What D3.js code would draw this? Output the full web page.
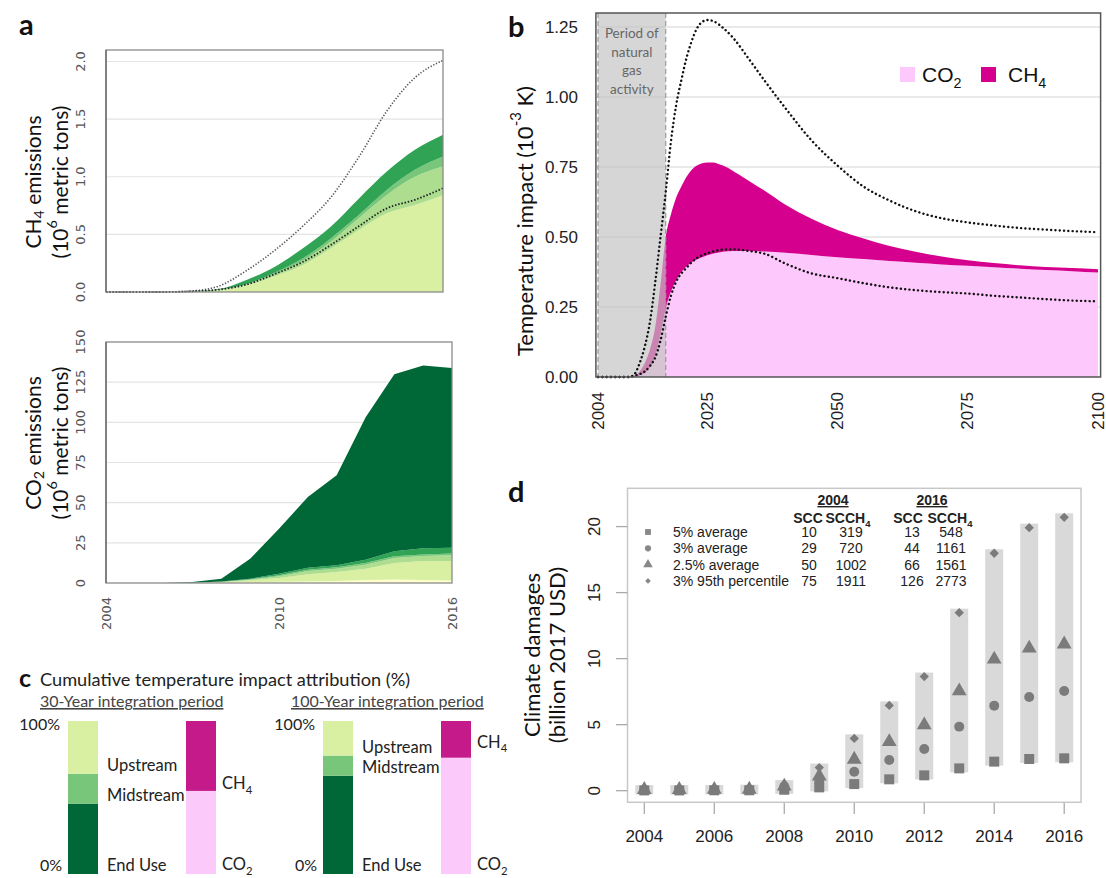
<!DOCTYPE html>
<html><head><meta charset="utf-8">
<script src="https://cdn.jsdelivr.net/npm/d3@7"></script>
<style>body{margin:0;background:#fff} svg{display:block}</style>
</head><body>
<svg id="fig" width="1106" height="878"></svg>
<script>
// ---------------- DATA ----------------
// Panel a (top): CH4 emissions, 10^6 t, stacked segments
const yearsA = [2004,2005,2006,2007,2008,2009,2010,2011,2012,2013,2014,2015,2016];
const ch4Seg1 = [0,0,0,0.003,0.015,0.058,0.137,0.232,0.378,0.537,0.683,0.755,0.84];
const ch4Seg2 = [0,0,0,0.001,0.003,0.008,0.018,0.038,0.058,0.103,0.159,0.245,0.249];
const ch4Seg3 = [0,0,0,0,0.001,0.004,0.011,0.02,0.029,0.028,0.044,0.06,0.087];
const ch4Seg4 = [0,0,0,0.001,0.006,0.035,0.052,0.088,0.101,0.142,0.159,0.174,0.189];
const ch4High = [0,0,0,0.008,0.05,0.185,0.36,0.57,0.82,1.17,1.57,1.86,2.01];
const ch4Low  = [0,0,0,0.005,0.02,0.065,0.155,0.26,0.407,0.57,0.726,0.80,0.90];
const ch4Ticks = [0,0.5,1,1.5,2];
const ch4TickLabels = ["0.0","0.5","1.0","1.5","2.0"];
// Panel a (bottom): CO2 emissions, 10^6 t, stacked segments
const co2Seg1 = [0,0,0,0,0.2,0.5,0.8,1.0,1.3,1.8,2.2,1.8,1.5];
const co2Seg2 = [0,0,0,0.1,0.4,1.2,2.3,4.4,5.5,7.1,10.3,11.9,12.2];
const co2Seg3 = [0,0,0,0,0.2,0.4,1.1,2.1,2.1,2.5,3.1,3.1,3.5];
const co2Seg4 = [0,0,0,0.05,0,0.2,0.6,0.8,0.9,1.1,1.0,1.0,1.1];
const co2Seg5 = [0,0,0,0.05,0.2,0.4,1.0,1.2,1.2,2.0,3.1,3.8,3.7];
const co2Seg6 = [0,0,0,0.4,1.7,12.4,28.0,44.0,56.0,88.5,110.3,113.7,111.8];
const co2Ticks = [0,25,50,75,100,125,150];
const yearTicksA = [2004,2010,2016];

// Panel b: temperature impact, 10^-3 K
const yearsB = [2004,2008,2010,2011,2012,2013,2014,2015,2016,2017,2018,2019,2020,2021,2022,2023,2024,2025,2026,2027,2028,2030,2033,2036,2040,2045,2050,2055,2060,2065,2070,2075,2080,2085,2090,2095,2100];
const co2Impact = [0,0,0,0,0.005,0.015,0.035,0.075,0.15,0.245,0.305,0.345,0.375,0.395,0.41,0.42,0.428,0.435,0.44,0.444,0.447,0.45,0.45,0.448,0.444,0.436,0.428,0.421,0.414,0.408,0.402,0.397,0.392,0.387,0.382,0.378,0.373];
const ch4Impact = [0,0,0,0.005,0.015,0.035,0.065,0.105,0.18,0.255,0.275,0.295,0.305,0.32,0.33,0.335,0.335,0.331,0.326,0.318,0.308,0.285,0.25,0.217,0.171,0.129,0.097,0.074,0.054,0.039,0.028,0.02,0.015,0.012,0.011,0.011,0.012];
const impactHigh = [0,0,0,0.01,0.05,0.11,0.2,0.34,0.5,0.66,0.84,0.97,1.06,1.14,1.2,1.245,1.268,1.275,1.272,1.262,1.247,1.21,1.135,1.058,0.96,0.845,0.755,0.68,0.63,0.592,0.567,0.552,0.541,0.532,0.526,0.521,0.517];
const impactLow = [0,0,0,0.005,0.01,0.02,0.04,0.07,0.13,0.215,0.29,0.34,0.37,0.39,0.41,0.425,0.435,0.442,0.448,0.452,0.455,0.456,0.45,0.44,0.405,0.37,0.353,0.335,0.32,0.31,0.303,0.298,0.29,0.284,0.278,0.273,0.27];
const activityPeriod = [2004,2017];
const impactTicks = [0,0.25,0.5,0.75,1.0,1.25];
const impactTickLabels = ["0.00","0.25","0.50","0.75","1.00","1.25"];
const yearTicksB = [2004,2025,2050,2075,2100];

// Panel c: cumulative temperature impact attribution (%)
const periods = ["30-Year integration period","100-Year integration period"];
const stageNames = ["End Use","Midstream","Upstream"];
const stageShare30 = [46,19.5,34.5];
const stageShare100 = [64.2,13.2,22.6];
const gasNames = ["CO2","CH4"];
const gasShare30 = [54.3,45.7];
const gasShare100 = [76,24];

// Panel d: climate damages, billion 2017 USD
const yearsD = [2004,2005,2006,2007,2008,2009,2010,2011,2012,2013,2014,2015,2016];
const dmg5avg  = [0.02,0.02,0.03,0.03,0.07,0.25,0.5,0.86,1.16,1.69,2.2,2.4,2.45];
const dmg3avg  = [0.05,0.05,0.06,0.07,0.2,0.7,1.44,2.32,3.16,4.85,6.44,7.1,7.55];
const dmg25avg = [0.08,0.08,0.09,0.1,0.33,1.1,2.37,3.71,4.97,7.55,9.95,10.78,11.1];
const dmg3p95  = [0.12,0.12,0.13,0.15,0.5,1.75,3.96,6.46,8.64,13.48,17.98,19.92,20.7];
const dmgTicks = [0,5,10,15,20];
const yearTicksD = [2004,2006,2008,2010,2012,2014,2016];
const sccLabels = ["5% average","3% average","2.5% average","3% 95th percentile"];
const scc2004 = [10,29,50,75];
const scch4_2004 = [319,720,1002,1911];
const scc2016 = [13,44,66,126];
const scch4_2016 = [548,1161,1561,2773];

// ---------------- STYLE ----------------
const svg = d3.select("#fig");
const SEG = "Lato,'Open Sans',sans-serif";
const ARI = "'Liberation Sans',Arial,sans-serif";
const DJV = "'DejaVu Sans',sans-serif";
const YLGN = ["#ffffcc","#d9f0a3","#addd8e","#78c679","#31a354","#006837"];
const PINK = "#fdc8fb", MAG = "#d6008f";
const PINKc = "#fcc9fb", MAGc = "#c51b8a";

function rich(sel, segs, fs){
  let shift = 0;
  segs.forEach(s=>{
    const t = sel.append("tspan").text(s.t);
    let target = 0;
    if (s.s === "sub") { t.attr("font-size", fs*0.68); target = fs*0.28; }
    else if (s.s === "sup") { t.attr("font-size", fs*0.68); target = -fs*0.4; }
    if (target !== shift) { t.attr("dy", target - shift); shift = target; }
  });
  return sel;
}
function vText(g, x, y, anchor){
  return g.append("text").attr("transform",`translate(${x},${y}) rotate(-90)`)
    .attr("text-anchor",anchor||"middle").attr("dominant-baseline","central");
}

// ---------------- PANEL A ----------------
(function(){
  const g = svg.append("g");
  g.append("text").attr("x",19).attr("y",35).attr("font-family",SEG).attr("font-weight",700)
    .attr("font-size",29).attr("fill","#111").text("a");

  // top: CH4
  const x1 = d3.scaleLinear().domain([2004,2016]).range([106,443]);
  const y1 = d3.scaleLinear().domain([0,2.1]).range([292,50]);
  g.selectAll(".g1").data(ch4Ticks.filter(d=>d>0)).join("line")
    .attr("x1",106).attr("x2",443).attr("y1",d=>y1(d)).attr("y2",d=>y1(d))
    .attr("stroke","#e4e4e4").attr("stroke-width",1.2);
  const rows1 = yearsA.map((yr,i)=>({year:yr,s1:ch4Seg1[i],s2:ch4Seg2[i],s3:ch4Seg3[i],s4:ch4Seg4[i]}));
  const st1 = d3.stack().keys(["s1","s2","s3","s4"])(rows1);
  const ar1 = d3.area().x(d=>x1(d.data.year)).y0(d=>y1(d[0])).y1(d=>y1(d[1])).curve(d3.curveMonotoneX);
  const cols1 = [YLGN[1],YLGN[2],YLGN[3],YLGN[4]];
  g.selectAll(".a1").data(st1).join("path").attr("d",ar1).attr("fill",(d,i)=>cols1[i]);
  const ln1 = d3.line().x((d,i)=>x1(yearsA[i])).y(d=>y1(d)).curve(d3.curveMonotoneX);
  g.append("path").attr("d",ln1(ch4High)).attr("fill","none").attr("stroke","#555")
    .attr("stroke-width",1.6).attr("stroke-dasharray","1.3,1.7");
  g.append("path").attr("d",ln1(ch4Low)).attr("fill","none").attr("stroke","#222")
    .attr("stroke-width",1.8).attr("stroke-dasharray","1.5,1.8");
  g.append("rect").attr("x",106).attr("y",50).attr("width",337).attr("height",242)
    .attr("fill","none").attr("stroke","#8a8a8a").attr("stroke-width",1.3);
  g.append("line").attr("x1",106).attr("x2",106).attr("y1",50).attr("y2",292).attr("stroke","#666").attr("stroke-width",1.3);
  ch4Ticks.forEach((t,i)=>{
    vText(g,80,y1(t)).attr("font-family",DJV).attr("font-size",13).attr("fill","#555").text(ch4TickLabels[i]);
  });
  rich(vText(g,32,182).attr("font-family",SEG).attr("font-size",21).attr("fill","#111"),
    [{t:"CH"},{t:"4",s:"sub"},{t:" emissions"}],21);
  rich(vText(g,59,182).attr("font-family",SEG).attr("font-size",21).attr("fill","#111"),
    [{t:"(10"},{t:"6",s:"sup"},{t:" metric tons)"}],21);

  // bottom: CO2
  const x2 = d3.scaleLinear().domain([2004,2016]).range([106,452]);
  const y2 = d3.scaleLinear().domain([0,150]).range([583,342]);
  g.selectAll(".g2").data(co2Ticks.filter(d=>d>0&&d<150)).join("line")
    .attr("x1",106).attr("x2",452).attr("y1",d=>y2(d)).attr("y2",d=>y2(d))
    .attr("stroke","#e4e4e4").attr("stroke-width",1.2);
  const rows2 = yearsA.map((yr,i)=>({year:yr,s1:co2Seg1[i],s2:co2Seg2[i],s3:co2Seg3[i],s4:co2Seg4[i],s5:co2Seg5[i],s6:co2Seg6[i]}));
  const st2 = d3.stack().keys(["s1","s2","s3","s4","s5","s6"])(rows2);
  const ar2 = d3.area().x(d=>x2(d.data.year)).y0(d=>y2(d[0])).y1(d=>y2(d[1])).curve(d3.curveLinear);
  g.selectAll(".a2").data(st2).join("path").attr("d",ar2).attr("fill",(d,i)=>YLGN[i]);
  g.append("rect").attr("x",106).attr("y",342).attr("width",346).attr("height",241)
    .attr("fill","none").attr("stroke","#8a8a8a").attr("stroke-width",1.3);
  g.append("line").attr("x1",106).attr("x2",106).attr("y1",342).attr("y2",583).attr("stroke","#666").attr("stroke-width",1.3);
  co2Ticks.forEach(t=>{
    vText(g,80,y2(t)).attr("font-family",DJV).attr("font-size",13).attr("fill","#555").text(t);
  });
  yearTicksA.forEach(t=>{
    vText(g,x2(t),597,"end").attr("font-family",DJV).attr("font-size",13).attr("fill","#555").text(t);
  });
  rich(vText(g,32,443).attr("font-family",SEG).attr("font-size",21).attr("fill","#111"),
    [{t:"CO"},{t:"2",s:"sub"},{t:" emissions"}],21);
  rich(vText(g,59,443).attr("font-family",SEG).attr("font-size",21).attr("fill","#111"),
    [{t:"(10"},{t:"6",s:"sup"},{t:" metric tons)"}],21);
})();

// ---------------- PANEL B ----------------
(function(){
  const g = svg.append("g");
  g.append("text").attr("x",508).attr("y",37).attr("font-family",SEG).attr("font-weight",700)
    .attr("font-size",29).attr("fill","#111").text("b");
  const x = d3.scaleLinear().domain([2004,2100]).range([598,1098]);
  const y = d3.scaleLinear().domain([0,1.25]).range([377,27]);
  const L = x(2003.6), R = x(2100.5), T = y(1.3), B = y(0);
  g.selectAll(".gb").data(impactTicks.filter(d=>d>0)).join("line")
    .attr("x1",L).attr("x2",R).attr("y1",d=>y(d)).attr("y2",d=>y(d))
    .attr("stroke","#e2e2e2").attr("stroke-width",1.5);
  const rows = yearsB.map((yr,i)=>({year:yr,co2:co2Impact[i],ch4:ch4Impact[i]}));
  const st = d3.stack().keys(["co2","ch4"])(rows);
  const ar = d3.area().x(d=>x(d.data.year)).y0(d=>y(d[0])).y1(d=>y(d[1])).curve(d3.curveMonotoneX);
  g.selectAll(".ab").data(st).join("path").attr("d",ar).attr("fill",(d,i)=>i===0?PINK:MAG);
  // activity period shading
  g.append("rect").attr("x",x(activityPeriod[0])).attr("y",T)
    .attr("width",x(activityPeriod[1])-x(activityPeriod[0])).attr("height",B-T)
    .attr("fill","#c2c2c2").attr("opacity",0.68);
  activityPeriod.forEach(p=>{
    g.append("line").attr("x1",x(p)).attr("x2",x(p)).attr("y1",T).attr("y2",B)
      .attr("stroke","#9a9a9a").attr("stroke-width",1.2).attr("stroke-dasharray","5,3");
  });
  const ln = d3.line().x((d,i)=>x(yearsB[i])).y(d=>y(d)).curve(d3.curveMonotoneX);
  [impactHigh,impactLow].forEach(s=>{
    g.append("path").attr("d",ln(s)).attr("fill","none").attr("stroke","#111")
      .attr("stroke-width",2.4).attr("stroke-linecap","round").attr("stroke-dasharray","0.1,4.2");
  });
  g.append("rect").attr("x",L).attr("y",T).attr("width",R-L).attr("height",B-T)
    .attr("fill","none").attr("stroke","#555").attr("stroke-width",1.5);
  const cx = (x(activityPeriod[0])+x(activityPeriod[1]))/2;
  ["Period of","natural","gas","activity"].forEach((s,i)=>{
    g.append("text").attr("x",cx).attr("y",38+i*18.5).attr("text-anchor","middle")
      .attr("font-family",SEG).attr("font-size",13.5).attr("fill","#666").text(s);
  });
  impactTicks.forEach((t,i)=>{
    g.append("text").attr("x",578).attr("y",y(t)).attr("text-anchor","end").attr("dominant-baseline","central")
      .attr("font-family",ARI).attr("font-size",17).attr("fill","#222").text(impactTickLabels[i]);
  });
  yearTicksB.forEach(t=>{
    vText(g,x(t),392,"end").attr("font-family",ARI).attr("font-size",17).attr("fill","#222").text(t);
  });
  rich(vText(g,524,221).attr("font-family",SEG).attr("font-size",22).attr("fill","#111"),
    [{t:"Temperature impact (10"},{t:"-3",s:"sup"},{t:" K)"}],22);
  // legend
  const lg = g.append("g");
  lg.append("rect").attr("x",900).attr("y",67).attr("width",15).attr("height",15).attr("fill",PINK);
  rich(lg.append("text").attr("x",922).attr("y",82).attr("font-family",ARI).attr("font-size",21).attr("fill","#111"),
    [{t:"CO"},{t:"2",s:"sub"}],21);
  lg.append("rect").attr("x",981).attr("y",67).attr("width",15).attr("height",15).attr("fill",MAG);
  rich(lg.append("text").attr("x",1008).attr("y",82).attr("font-family",ARI).attr("font-size",21).attr("fill","#111"),
    [{t:"CH"},{t:"4",s:"sub"}],21);
})();

// ---------------- PANEL C ----------------
(function(){
  const g = svg.append("g");
  g.append("text").attr("x",19).attr("y",687).attr("font-family",SEG).attr("font-weight",700)
    .attr("font-size",25).attr("fill","#111").text("c");
  g.append("text").attr("x",40).attr("y",686).attr("font-family",SEG).attr("font-size",18.2)
    .attr("fill","#222").text("Cumulative temperature impact attribution (%)");
  const px = d3.scaleBand().domain(periods).range([68,578]);
  const sub = d3.scalePoint().domain(["stage","gas"]).range([0,118]);
  const y = d3.scaleLinear().domain([0,100]).range([874,721]);
  const bw = 30;
  const stageCols = {"End Use":YLGN[5],"Midstream":YLGN[3],"Upstream":YLGN[1]};
  const gasCols = {"CO2":PINKc,"CH4":MAGc};
  const sets = [[stageShare30,gasShare30],[stageShare100,gasShare100]];
  periods.forEach((p,pi)=>{
    const x0 = px(p);
    g.append("text").attr("x",x0-28-pi*4).attr("y",707).attr("font-family",SEG).attr("font-size",16)
      .attr("fill","#444").attr("text-decoration","underline").text(p);
    // stage bar
    let acc = 0;
    const xs = x0+sub("stage");
    sets[pi][0].forEach((v,k)=>{
      const name = stageNames[k];
      g.append("rect").attr("x",xs).attr("y",y(acc+v)).attr("width",bw).attr("height",y(acc)-y(acc+v))
        .attr("fill",stageCols[name]);
      const ly = k===0 ? y(0)-3 : y(acc)-3;
      g.append("text").attr("x",xs+bw+9).attr("y",ly).attr("font-family",SEG).attr("font-size",16.5)
        .attr("fill","#222").text(name);
      acc += v;
    });
    // gas bar
    acc = 0;
    const xg = x0+sub("gas");
    sets[pi][1].forEach((v,k)=>{
      const name = gasNames[k];
      g.append("rect").attr("x",xg).attr("y",y(acc+v)).attr("width",bw).attr("height",y(acc)-y(acc+v))
        .attr("fill",gasCols[name]);
      const ly = k===0 ? y(0)-4 : y(acc)-(pi===0?2:10);
      rich(g.append("text").attr("x",xg+bw+6).attr("y",ly).attr("font-family",SEG).attr("font-size",16.5)
        .attr("fill","#222"), [{t:name.slice(0,-1)},{t:name.slice(-1),s:"sub"}],16.5);
      acc += v;
    });
    g.append("text").attr("x",xs-8).attr("y",y(100)+9).attr("text-anchor","end").attr("font-family",SEG)
      .attr("font-size",16).attr("fill","#222").text("100%");
    g.append("text").attr("x",xs-6).attr("y",y(0)-3).attr("text-anchor","end").attr("font-family",SEG)
      .attr("font-size",16).attr("fill","#222").text("0%");
  });
})();

// ---------------- PANEL D ----------------
(function(){
  const g = svg.append("g");
  g.append("text").attr("x",508).attr("y",502).attr("font-family",SEG).attr("font-weight",700)
    .attr("font-size",29).attr("fill","#111").text("d");
  const x = d3.scaleLinear().domain([2003.52,2016.48]).range([627.5,1081]);
  const y = d3.scaleLinear().domain([-0.88,22.9]).range([802.3,488.3]);
  const series = [dmg5avg,dmg3avg,dmg25avg,dmg3p95];
  const rows = yearsD.map((yr,i)=>({year:yr,vals:series.map(s=>s[i])}));
  g.selectAll(".bar").data(rows).join("rect")
    .attr("x",d=>x(d.year)-9).attr("width",18)
    .attr("y",d=>y(d3.max(d.vals))-4).attr("height",d=>y(d3.min(d.vals))-y(d3.max(d.vals))+8)
    .attr("fill","#d9d9d9");
  const diamond = d3.symbolDiamond2 || d3.symbolDiamond;
  const syms = [d3.symbolSquare,d3.symbolCircle,d3.symbolTriangle,diamond];
  const sizes = [100,78,95,55];
  series.forEach((s,k)=>{
    g.selectAll(".p"+k).data(s).join("path")
      .attr("transform",(d,i)=>`translate(${x(yearsD[i])},${y(d)})`)
      .attr("d",d3.symbol(syms[k],sizes[k])).attr("fill","#7b7b7b");
  });
  g.append("rect").attr("x",627.5).attr("y",488.3).attr("width",453.5).attr("height",314)
    .attr("fill","none").attr("stroke","#c8c8c8").attr("stroke-width",1.5);
  dmgTicks.forEach(t=>{
    g.append("line").attr("x1",616).attr("x2",627.5).attr("y1",y(t)).attr("y2",y(t)).attr("stroke","#aaa").attr("stroke-width",1.3);
    vText(g,594,y(t)).attr("font-family",ARI).attr("font-size",17).attr("fill","#222").text(t);
  });
  yearTicksD.forEach(t=>{
    g.append("line").attr("x1",x(t)).attr("x2",x(t)).attr("y1",803).attr("y2",814).attr("stroke","#aaa").attr("stroke-width",1.3);
    g.append("text").attr("x",x(t)).attr("y",842).attr("text-anchor","middle").attr("font-family",ARI)
      .attr("font-size",17).attr("fill","#222").text(t);
  });
  vText(g,531,655).attr("font-family",SEG).attr("font-size",22).attr("fill","#111").text("Climate damages");
  vText(g,556,655).attr("font-family",SEG).attr("font-size",22).attr("fill","#111").text("(billion 2017 USD)");
  // legend table
  const lf = 14;
  const lt = g.append("g").attr("font-family",ARI).attr("font-size",lf).attr("fill","#222");
  lt.append("text").attr("x",833).attr("y",505).attr("text-anchor","middle").attr("text-decoration","underline").attr("font-weight",700).text("2004");
  lt.append("text").attr("x",932).attr("y",505).attr("text-anchor","middle").attr("text-decoration","underline").attr("font-weight",700).text("2016");
  [[808,848],[908,950]].forEach(c=>{
    lt.append("text").attr("x",c[0]).attr("y",523).attr("text-anchor","middle").attr("font-weight",700).text("SCC");
    rich(lt.append("text").attr("x",c[1]).attr("y",523).attr("text-anchor","middle").attr("font-weight",700),
      [{t:"SCCH"},{t:"4",s:"sub"}],lf);
  });
  const lsizes = [34,30,40,20];
  sccLabels.forEach((lab,k)=>{
    const ry = 532+k*16.3;
    lt.append("path").attr("transform",`translate(648,${ry})`).attr("d",d3.symbol(syms[k],lsizes[k])).attr("fill","#888");
    lt.append("text").attr("x",673).attr("y",ry+5).text(lab);
    lt.append("text").attr("x",809).attr("y",ry+5).attr("text-anchor","middle").text(scc2004[k]);
    lt.append("text").attr("x",851).attr("y",ry+5).attr("text-anchor","middle").text(scch4_2004[k]);
    lt.append("text").attr("x",912).attr("y",ry+5).attr("text-anchor","middle").text(scc2016[k]);
    lt.append("text").attr("x",951).attr("y",ry+5).attr("text-anchor","middle").text(scch4_2016[k]);
  });
})();
</script>
</body></html>
